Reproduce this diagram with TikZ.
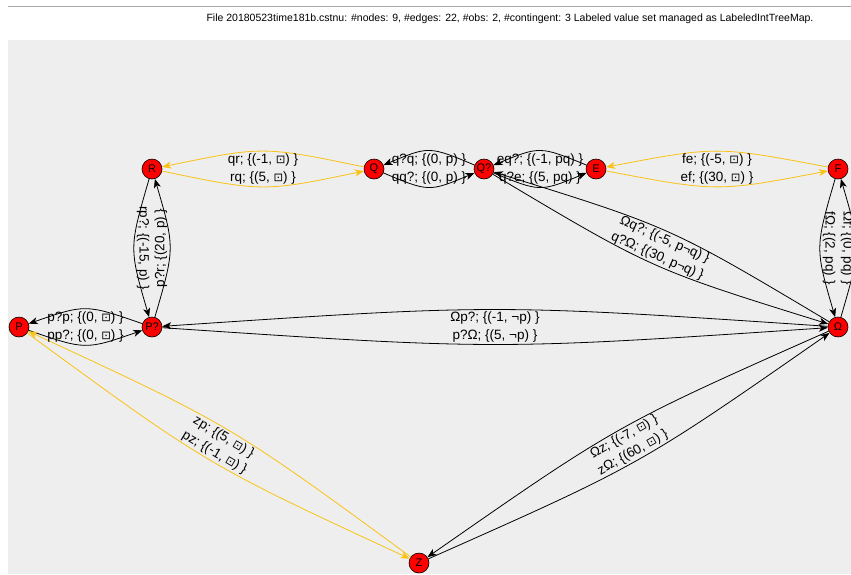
\documentclass[tikz,border=0pt]{standalone}
\usepackage{fontspec}
\setmainfont{Liberation Sans}
\newfontfamily\symfont{DejaVu Sans}
\usetikzlibrary{arrows.meta,calc}

\definecolor{canvas}{HTML}{EEEEEE}
\definecolor{ctgcol}{RGB}{250,195,20}
\definecolor{rulecol}{HTML}{A8A8A8}

% boxed-dot symbol used in the edge labels
\newcommand{\bx}{{\symfont\scalebox{0.85}{⊡}}}

% edge from #2 to #3 that bends to its right
\newcommand{\bentedge}[3]{%
  \draw[#1] (#2) .. controls ($(#2)!0.5!(#3)!23pt!-90:(#3)$) .. (#3);}
% label of such an edge, set between the chord and the curve
\newcommand{\edgelabel}[5]{%
  \node[lab, rotate=#4] (#1) at ($(#2)!0.5!(#3)!9pt!-90:(#3)$) {#5};}

\tikzset{
  vtx/.style={circle, draw=black, line width=0.6pt, fill=red,
    minimum size=20pt, inner sep=0pt, font=\fontsize{11}{11}\selectfont},
  arc/.style={line width=0.8pt, -{Stealth[length=9pt,width=7pt,inset=2.5pt]}},
  ord/.style={arc, black},
  ctg/.style={arc, ctgcol},
  lab/.style={inner sep=0pt, font=\fontsize{13.5}{13.5}\selectfont},
  title/.style={inner sep=0pt, font=\fontsize{10.5}{10.5}\selectfont}
}

\begin{document}
\begin{tikzpicture}[x=1pt, y=-1pt]
  \useasboundingbox (0,0) rectangle (851,574);
  \fill[white] (0,0) rectangle (851,574);
  \fill[canvas] (8,40) rectangle (851,574);
  \draw[rulecol, line width=1pt] (8,6) -- (851,6);

  \node[title] (hdr) at (510,19) {File 20180523time181b.cstnu: \#nodes: 9, \#edges: 22, \#obs: 2, \#contingent: 3 Labeled value set managed as LabeledIntTreeMap.};

  % vertices
  \node[vtx] (r)  at (152,169) {R};
  \node[vtx] (q)  at (374,169) {Q};
  \node[vtx] (qq) at (484,169) {Q?};
  \node[vtx] (e)  at (596,169) {E};
  \node[vtx] (f)  at (838,169) {F};
  \node[vtx] (p)  at (19,327)  {P};
  \node[vtx] (pp) at (152,327) {P?};
  \node[vtx] (om) at (838,327) {Ω};
  \node[vtx] (z)  at (419,563) {Z};

  % edges
  \bentedge{ctg}{q}{r}
  \bentedge{ctg}{r}{q}
  \bentedge{ord}{qq}{q}
  \bentedge{ord}{q}{qq}
  \bentedge{ord}{e}{qq}
  \bentedge{ord}{qq}{e}
  \bentedge{ctg}{f}{e}
  \bentedge{ctg}{e}{f}
  \bentedge{ord}{r}{pp}
  \bentedge{ord}{pp}{r}
  \bentedge{ord}{f}{om}
  \bentedge{ord}{om}{f}
  \bentedge{ord}{om}{pp}
  \bentedge{ord}{pp}{om}
  \bentedge{ord}{pp}{p}
  \bentedge{ord}{p}{pp}
  \bentedge{ord}{om}{qq}
  \bentedge{ord}{qq}{om}
  \bentedge{ctg}{z}{p}
  \bentedge{ctg}{p}{z}
  \bentedge{ord}{om}{z}
  \bentedge{ord}{z}{om}

  % edge labels
  \edgelabel{lqr}{q}{r}{0}{qr; \{(-1, \bx) \}}
  \edgelabel{lrq}{r}{q}{0}{rq; \{(5, \bx) \}}
  \edgelabel{lqqq}{qq}{q}{0}{q?q; \{(0, p) \}}
  \edgelabel{lqqq2}{q}{qq}{0}{qq?; \{(0, p) \}}
  \edgelabel{leqq}{e}{qq}{0}{eq?; \{(-1, pq) \}}
  \edgelabel{lqqe}{qq}{e}{0}{q?e; \{(5, pq) \}}
  \edgelabel{lfe}{f}{e}{0}{fe; \{(-5, \bx) \}}
  \edgelabel{lef}{e}{f}{0}{ef; \{(30, \bx) \}}
  \edgelabel{lrpp}{r}{pp}{-90}{rp?; \{(-15, p) \}}
  \edgelabel{lppr}{pp}{r}{90}{p?r; \{(20, p) \}}
  \edgelabel{lfom}{f}{om}{-90}{fΩ; \{(2, pq) \}}
  \edgelabel{lomf}{om}{f}{-90}{Ωf; \{(0, pq) \}}
  \edgelabel{lompp}{om}{pp}{0}{Ωp?; \{(-1, ¬p) \}}
  \edgelabel{lppom}{pp}{om}{0}{p?Ω; \{(5, ¬p) \}}
  \edgelabel{lppp}{pp}{p}{0}{p?p; \{(0, \bx) \}}
  \edgelabel{lppp2}{p}{pp}{0}{pp?; \{(0, \bx) \}}
  \edgelabel{lomqq}{om}{qq}{-24.05}{Ωq?; \{(-5, p¬q) \}}
  \edgelabel{lqqom}{qq}{om}{-24.05}{q?Ω; \{(30, p¬q) \}}
  \edgelabel{lzp}{z}{p}{-30.54}{zp; \{(5, \bx) \}}
  \edgelabel{lpz}{p}{z}{-30.54}{pz; \{(-1, \bx) \}}
  \edgelabel{lomz}{om}{z}{29.39}{Ωz; \{(-7, \bx) \}}
  \edgelabel{lzom}{z}{om}{29.39}{zΩ; \{(60, \bx) \}}
\end{tikzpicture}
\end{document}
